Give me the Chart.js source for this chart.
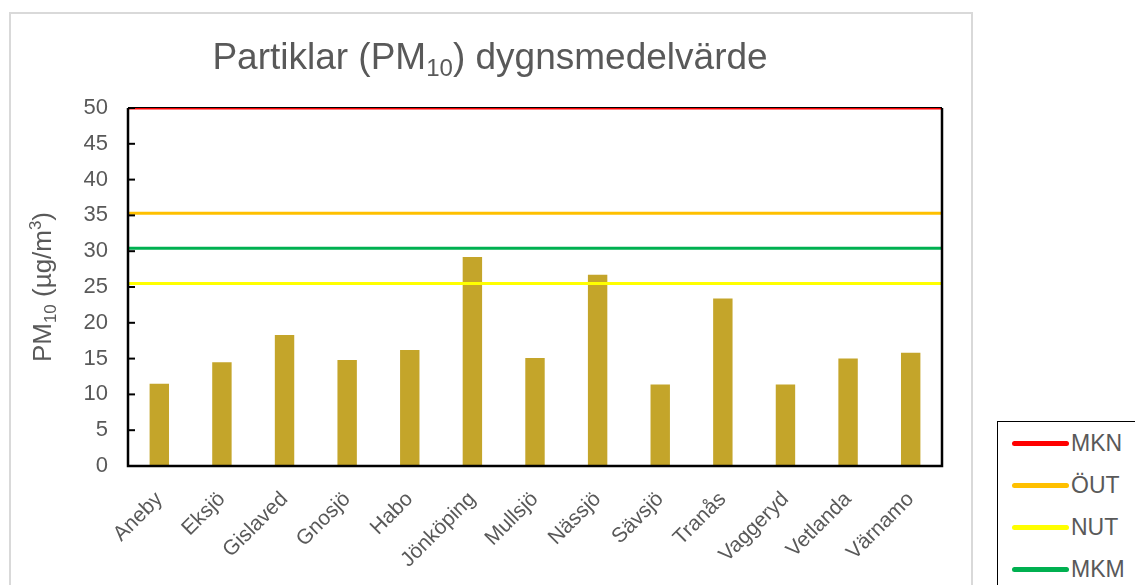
<!DOCTYPE html>
<html>
<head>
<meta charset="utf-8">
<script src="https://cdn.jsdelivr.net/npm/chart.js@4"></script>
<style>
  body { margin: 0; background: #fff; font-family: "Liberation Sans", Arial, sans-serif; }
  #wrap { position: absolute; left: 9px; top: 12px; width: 960px; height: 580px; border: 2px solid #d9d9d9; }
  #legend { position: absolute; left: 997px; top: 421px; width: 160px; height: 200px; border: 1.5px solid #000; background: #fff; }
  #legend div { height: 42px; display: flex; align-items: center; padding-left: 14px; color: #595959; font-size: 23px; }
  #legend span { display: inline-block; width: 57px; height: 5px; border-radius: 3px; margin-right: 2px; }
</style>
</head>
<body>
<div id="wrap"><canvas id="chart" width="960" height="580"></canvas></div>
<div id="legend"></div>
<script>
const categories = ['Aneby', 'Eksjö', 'Gislaved', 'Gnosjö', 'Habo', 'Jönköping', 'Mullsjö', 'Nässjö', 'Sävsjö', 'Tranås', 'Vaggeryd', 'Vetlanda', 'Värnamo'];
const pm10 = [11.5, 14.5, 18.3, 14.8, 16.2, 29.2, 15.1, 26.7, 11.4, 23.4, 11.4, 15.0, 15.8];
const limitNames = ['MKN', 'ÖUT', 'NUT', 'MKM'];
const limitValues = [50, 35.3, 25.5, 30.4];
const limitColors = ['#ff0000', '#ffc000', '#ffff00', '#00b050'];
const yTicks = [0, 5, 10, 15, 20, 25, 30, 35, 40, 45, 50];

const grey = '#595959';

// draws text with sub/superscript parts, centred on x, y = baseline
function richText(ctx, parts, x, y, size) {
  let widths = parts.map(p => {
    ctx.font = `${p.s ? size * 0.65 : size}px "Liberation Sans", Arial`;
    return ctx.measureText(p.t).width;
  });
  let total = widths.reduce((a, b) => a + b, 0), cx = x - total / 2;
  ctx.textAlign = 'left'; ctx.textBaseline = 'alphabetic'; ctx.fillStyle = grey;
  parts.forEach((p, i) => {
    ctx.font = `${p.s ? size * 0.65 : size}px "Liberation Sans", Arial`;
    let dy = p.s == 1 ? size * 0.2 : p.s == 2 ? -size * 0.38 : 0;
    ctx.fillText(p.t, cx, y + dy);
    cx += widths[i];
  });
}

const extras = {
  id: 'extras',
  beforeDatasetsDraw(chart) {
    const { ctx, chartArea: a } = chart;
    ctx.save();
    ctx.strokeStyle = '#000'; ctx.lineWidth = 2;
    ctx.beginPath(); ctx.moveTo(a.left, a.top); ctx.lineTo(a.right, a.top); ctx.stroke();
    ctx.restore();
  },
  afterDatasetsDraw(chart) {
    const { ctx, chartArea: a, scales } = chart;
    ctx.save();
    ctx.strokeStyle = '#000'; ctx.lineWidth = 2.5;
    ctx.beginPath();
    ctx.moveTo(a.left, a.top); ctx.lineTo(a.left, a.bottom); ctx.lineTo(a.right, a.bottom); ctx.lineTo(a.right, a.top);
    ctx.stroke();
    ctx.lineWidth = 2;
    yTicks.forEach(v => {
      let y = scales.y.getPixelForValue(v);
      ctx.beginPath(); ctx.moveTo(a.left, y); ctx.lineTo(a.left + 7, y); ctx.stroke();
    });
    richText(ctx, [{ t: 'Partiklar (PM' }, { t: '10', s: 1 }, { t: ') dygnsmedelvärde' }], 479, 55, 37);
    ctx.translate(40, (a.top + a.bottom) / 2);
    ctx.rotate(-Math.PI / 2);
    richText(ctx, [{ t: 'PM' }, { t: '10', s: 1 }, { t: ' (µg/m' }, { t: '3', s: 2 }, { t: ')' }], 0, 0, 26);
    ctx.restore();
  }
};

const lineSets = limitNames.map((n, i) => ({
  type: 'line',
  label: n,
  xAxisID: 'x2',
  data: [{ x: 0, y: limitValues[i] }, { x: 1, y: limitValues[i] }],
  borderColor: limitColors[i],
  backgroundColor: limitColors[i],
  borderWidth: 3,
  pointRadius: 0
}));

const chart = new Chart(document.getElementById('chart'), {
  type: 'bar',
  data: {
    labels: categories,
    datasets: [...lineSets, {
      label: 'PM10',
      data: pm10,
      backgroundColor: '#c4a52a',
      grouped: false,
      barPercentage: 0.31,
      categoryPercentage: 1
    }]
  },
  options: {
    responsive: false,
    animation: false,
    layout: { padding: { top: 94, left: 0, right: 29, bottom: 0 } },
    plugins: { legend: { display: false }, tooltip: { enabled: false } },
    scales: {
      x: {
        grid: { display: false, drawTicks: false },
        border: { display: false },
        ticks: { color: grey, font: { family: 'Liberation Sans', size: 21 }, minRotation: 45, maxRotation: 45, padding: 21 },
        afterFit: s => { s.height = 128; }
      },
      x2: { type: 'linear', display: false, offset: false, min: 0, max: 1 },
      y: {
        min: 0, max: 50,
        grid: { display: false, drawTicks: false },
        border: { display: false },
        ticks: { stepSize: 5, color: grey, font: { family: 'Liberation Sans', size: 22 }, padding: 20 },
        afterFit: s => { s.width = 117; }
      }
    }
  },
  plugins: [extras]
});

let legend = document.getElementById('legend');
chart.data.datasets.filter(d => d.type == 'line').forEach(d => {
  legend.innerHTML += `<div><span style="background:${d.borderColor}"></span>${d.label}</div>`;
});
</script>
</body>
</html>
